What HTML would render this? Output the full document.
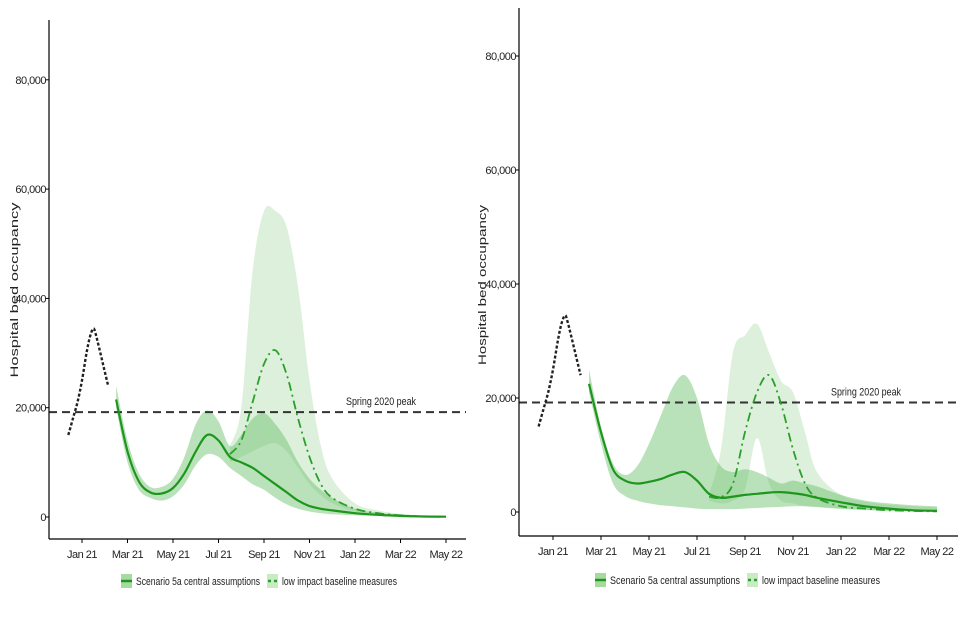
<!DOCTYPE html>
<html><head><meta charset="utf-8"><style>
body{margin:0;background:#fff;width:960px;height:640px;overflow:hidden;font-family:"Liberation Sans",sans-serif}
svg{display:block}
text{font-family:"Liberation Sans",sans-serif;font-size:11px;fill:#222}
</style></head><body>
<svg id="chart" width="960" height="640" viewBox="0 0 960 640"></svg>
<script>
const tickMonths=[0,2,4,6,8,10,12,14,16];
const tickLabels=["Jan 21","Mar 21","May 21","Jul 21","Sep 21","Nov 21","Jan 22","Mar 22","May 22"];
const yTicks=[0,20000,40000,60000,80000];
const yTickLabels=["0","20,000","40,000","60,000","80,000"];
const springPeak=19200;
const obsT=[-0.6,-0.4,-0.2,0,0.2,0.35,0.5,0.6,0.75,0.95,1.15];
const obsV=[15,18,21,25,30,33,34.5,33.5,31,27.5,24];
const projT=[1.5,2,2.5,3,3.5,4,4.5,5,5.5,6,6.5,7,7.5,8,8.5,9,9.5,10,10.5,11,12,13,14,15,16];
const lowT=[6.5,7,7.5,8,8.5,9,9.5,10,10.5,11,12,13,14,15,16];
// Left chart
const L_cen=[21.5,12,6.5,4.5,4.3,5.3,8,12,15,14,11,10,9,7.5,6,4.5,3,2,1.5,1.2,0.7,0.4,0.2,0.1,0.05];
const L_cenHi=[24,14,8,5.5,5.5,7,11,17,19.5,17.5,13,15,18,19,17,14,10,7,5,3.5,1.5,0.8,0.4,0.2,0.1];
const L_cenLo=[20,10,5,3.5,3,3.8,6,9.5,11.5,11,9,7.5,6,5,3.5,2.3,1.5,1,0.7,0.5,0.3,0.2,0.1,0.05,0];
const L_low=[11.5,14,21,28,30.5,26,18,11,6,3.5,1.5,0.7,0.3,0.1,0.05];
const L_lowHi=[13,20,45,56,56,53,42,25,13,7,2.5,1.2,0.6,0.3,0.1];
const L_lowLo=[10,11,12,13,13.5,12,9,6,4,2.5,1,0.5,0.2,0.1,0];
// Right chart
const R_cen=[22.5,14,7.5,5.5,5,5.3,5.8,6.6,7,5.5,3.2,2.5,2.7,3,3.2,3.4,3.5,3.3,3,2.5,1.7,1,0.6,0.3,0.2];
const R_cenHi=[25,15,8.5,6.5,8,12,17,22,24,20,12,8,7,7.5,7,6,5,5.5,5,4.5,3,2,1.5,1.2,1];
const R_cenLo=[21,12,5,2.8,2,1.5,1.2,1,0.8,0.6,0.5,0.5,0.5,0.6,0.7,0.8,0.9,1,1,0.9,0.6,0.4,0.2,0.1,0.05];
const R_low=[2.7,2.6,5,14,21,24,19,11,5,2.5,1,0.6,0.3,0.2,0.1];
const R_lowHi=[3,11,28,31,33,28,23,21,14,7,3,1.8,1.3,1,0.8];
const R_lowLo=[2,1.5,2,4,13,5,2,1.5,1,0.8,0.5,0.3,0.2,0.1,0.05];

const NS="http://www.w3.org/2000/svg";
const svg=document.getElementById('chart');
function mk(tag,attrs,parent){const e=document.createElementNS(NS,tag);for(const k in attrs)e.setAttribute(k,attrs[k]);(parent||svg).appendChild(e);return e;}
function smooth(pts){let d="M"+pts[0][0].toFixed(1)+","+pts[0][1].toFixed(1);
 for(let i=0;i<pts.length-1;i++){const p0=pts[Math.max(0,i-1)],p1=pts[i],p2=pts[i+1],p3=pts[Math.min(pts.length-1,i+2)];
 const c1=[p1[0]+(p2[0]-p0[0])/6,p1[1]+(p2[1]-p0[1])/6],c2=[p2[0]-(p3[0]-p1[0])/6,p2[1]-(p3[1]-p1[1])/6];
 d+="C"+c1[0].toFixed(1)+","+c1[1].toFixed(1)+" "+c2[0].toFixed(1)+","+c2[1].toFixed(1)+" "+p2[0].toFixed(1)+","+p2[1].toFixed(1);}return d;}
function bandPath(xs,hi,lo,X,Y){const top=xs.map((t,i)=>[X(t),Y(hi[i]*1000)]);const bot=xs.map((t,i)=>[X(t),Y(lo[i]*1000)]).reverse();
 const b=smooth(bot);return smooth(top)+"L"+b.slice(1)+"Z";}

function drawChart(c){
 const g=mk('g',{});
 
 const X=t=>c.x0+t*c.xs, Y=v=>c.y0-v*c.ys/20000;
 let p=mk('path',{d:bandPath(lowT,c.lowHi,c.lowLo,X,Y),fill:'rgba(130,200,125,0.28)'},g);
 
 p=mk('path',{d:bandPath(projT,c.cenHi,c.cenLo,X,Y),fill:'rgba(90,185,90,0.42)'},g);
 
 let l=mk('line',{x1:c.ax,x2:c.ax2,y1:Y(springPeak),y2:Y(springPeak),stroke:'#333','stroke-width':2,'stroke-dasharray':'8,5'},g);
 
 let t=mk('text',{x:c.peakX,y:Y(springPeak)-7,'font-size':'11',textLength:'70',lengthAdjust:'spacingAndGlyphs'},g);t.textContent="Spring 2020 peak";
 
 p=mk('path',{d:smooth(lowT.map((tt,i)=>[X(tt),Y(c.low[i]*1000)])),fill:'none',stroke:'#2aa02a','stroke-width':1.8,'stroke-dasharray':'9,4,2,4'},g);
 
 p=mk('path',{d:smooth(projT.map((tt,i)=>[X(tt),Y(c.cen[i]*1000)])),fill:'none',stroke:'#1e961e','stroke-width':2.2},g);
 
 p=mk('path',{d:smooth(obsT.map((tt,i)=>[X(tt),Y(obsV[i]*1000)])),fill:'none',stroke:'#222','stroke-width':2.4,'stroke-dasharray':'3,2'},g);
 
 l=mk('line',{x1:c.ax,x2:c.ax,y1:c.ayTop,y2:c.axisY,stroke:'#000','stroke-width':1.2},g);
 
 l=mk('line',{x1:c.ax,x2:c.ax2,y1:c.axisY,y2:c.axisY,stroke:'#000','stroke-width':1.2},g);
 
 yTicks.forEach((v,i)=>{mk('line',{x1:c.ax-3,x2:c.ax,y1:Y(v),y2:Y(v),stroke:'#000'},g);
  const tx=mk('text',{x:c.ax-3,y:Y(v)+4,'text-anchor':'end','font-size':'11','letter-spacing':'-0.5'},g);tx.textContent=yTickLabels[i];
  });
 tickMonths.forEach((m,i)=>{mk('line',{x1:X(m),x2:X(m),y1:c.axisY,y2:c.axisY+4,stroke:'#000'},g);
  const tx=mk('text',{x:X(m),y:c.axisY+19,'text-anchor':'middle','font-size':'11','letter-spacing':'-0.5'},g);tx.textContent=tickLabels[i];
  });
 t=mk('text',{transform:`translate(${c.titleX},${c.titleY}) rotate(-90)`,'text-anchor':'middle','font-size':'11',textLength:c.titleLen,lengthAdjust:'spacingAndGlyphs'},g);t.textContent="Hospital bed occupancy";
 
 const lg=mk('g',{},g);
 const ly=c.legY;
 mk('rect',{x:c.legX,y:ly-7,width:11,height:14,fill:'#a6dba0'},lg);
 mk('line',{x1:c.legX,x2:c.legX+11,y1:ly,y2:ly,stroke:'#1e961e','stroke-width':2.5},lg);
 t=mk('text',{x:c.legX+15,y:ly+4,'font-size':'11',textLength:c.leg1Len,lengthAdjust:'spacingAndGlyphs'},lg);t.textContent="Scenario 5a central assumptions";
 
 mk('rect',{x:c.legX+c.leg2Off,y:ly-7,width:11,height:14,fill:'#c9ebc4'},lg);
 mk('line',{x1:c.legX+c.leg2Off+1,x2:c.legX+c.leg2Off+10,y1:ly,y2:ly,stroke:'#2aa02a','stroke-width':2.5,'stroke-dasharray':'3,3'},lg);
 t=mk('text',{x:c.legX+c.leg2Off+15,y:ly+4,'font-size':'11',textLength:c.leg2Len,lengthAdjust:'spacingAndGlyphs'},lg);t.textContent="low impact baseline measures";
 
}
drawChart({name:'left-chart',x0:82,xs:22.75,y0:517,ys:109.3,ax:49,ax2:466,ayTop:20,axisY:539,peakX:346,titleX:18,titleY:290,titleLen:175,legX:121,legY:581,leg2Off:146,leg1Len:124,leg2Len:115,
 cen:L_cen,cenHi:L_cenHi,cenLo:L_cenLo,low:L_low,lowHi:L_lowHi,lowLo:L_lowLo});
drawChart({name:'right-chart',x0:553,xs:24,y0:512,ys:114,ax:519,ax2:958,ayTop:8,axisY:536,peakX:831,titleX:486,titleY:285,titleLen:160,legX:595,legY:580,leg2Off:152,leg1Len:130,leg2Len:118,
 cen:R_cen,cenHi:R_cenHi,cenLo:R_cenLo,low:R_low,lowHi:R_lowHi,lowLo:R_lowLo});
</script>
</body></html>
